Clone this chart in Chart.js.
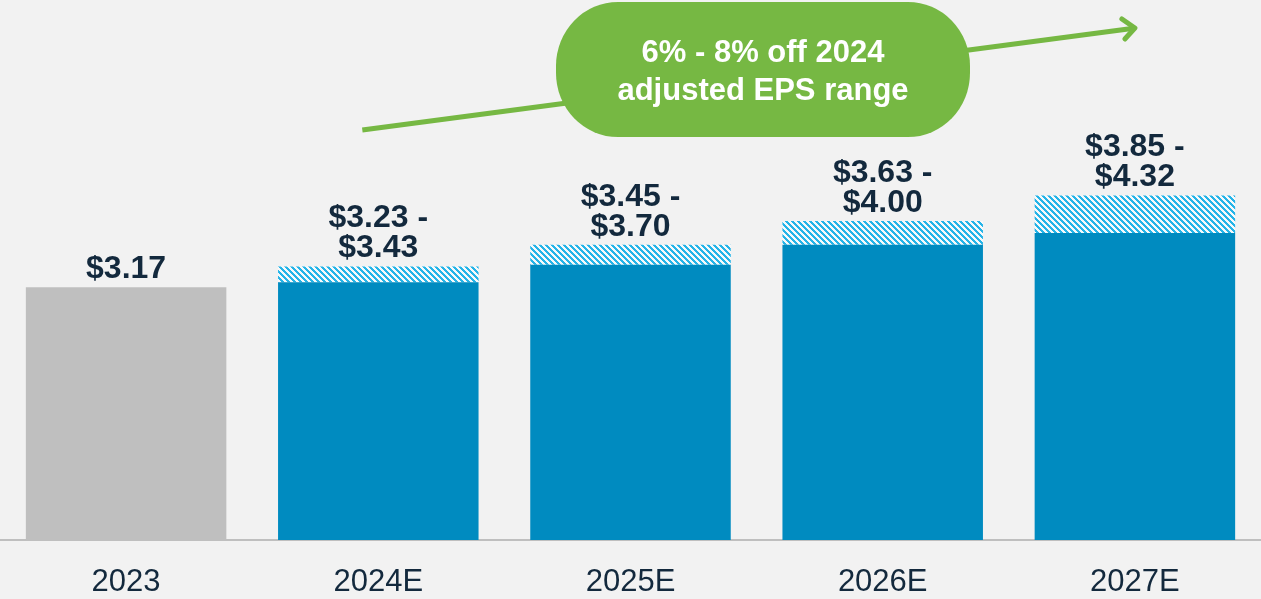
<!DOCTYPE html>
<html>
<head>
<meta charset="utf-8">
<script src="https://cdn.jsdelivr.net/npm/chart.js@4"></script>
<style>
    html, body { margin: 0; padding: 0; background: #f2f2f2; }
    #chart { display: block; }
</style>
</head>
<body>
<canvas id="chart" width="1261" height="599"></canvas>
<script>
// Adjusted EPS outlook
const years = ['2023', '2024E', '2025E', '2026E', '2027E'];
// bar heights as drawn in the source (2026E base sits a bit above its label)
const baseEps = [3.17, 3.23, 3.45, 3.70, 3.85];
const topEps = [null, 3.43, 3.70, 4.00, 4.32];
const valueText = [
    ['$3.17'],
    ['$3.23 -', '$3.43'],
    ['$3.45 -', '$3.70'],
    ['$3.63 -', '$4.00'],
    ['$3.85 -', '$4.32']
];
const calloutLines = ['6% - 8% off 2024', 'adjusted EPS range'];

const NAVY = '#13293d';
const BLUE = '#008bc0';
const GREY = '#bfbfbf';
const GREEN = '#76b843';

// range part stacked on top of the base
const rangeEps = topEps.map((h, i) => h === null ? 0 : +(h - baseEps[i]).toFixed(2));

// Diagonal hatch used for the range part of the bars
function makeHatch() {
    const p = 6;
    const c = document.createElement('canvas');
    c.width = p;
    c.height = p;
    const ctx = c.getContext('2d');
    ctx.fillStyle = '#f7f9fa';
    ctx.fillRect(0, 0, p, p);
    ctx.fillStyle = '#25b4e8';
    for (let x = 0; x < p; x++) {
        for (let y = 0; y < p; y++) {
            if (((x - y) % p + p) % p < 3) ctx.fillRect(x, y, 1, 1);
        }
    }
    return document.getElementById('chart').getContext('2d').createPattern(c, 'repeat');
}

// Value labels above each stack
const valueLabels = {
    id: 'valueLabels',
    afterDatasetsDraw(chart) {
        const ctx = chart.ctx;
        const y = chart.scales.y;
        const x = chart.scales.x;
        ctx.save();
        ctx.fillStyle = NAVY;
        ctx.font = 'bold 32px "Liberation Sans", Arial, sans-serif';
        ctx.textAlign = 'center';
        ctx.textBaseline = 'alphabetic';
        years.forEach((yr, i) => {
            const top = topEps[i] === null ? baseEps[i] : topEps[i];
            const lines = valueText[i];
            const cx = x.getPixelForValue(i);
            let base = y.getPixelForValue(top) - 9;
            for (let k = lines.length - 1; k >= 0; k--) {
                ctx.fillText(lines[k], cx, base);
                base -= 30;
            }
        });
        ctx.restore();
    }
};

// Growth arrow and green callout
const growthCallout = {
    id: 'growthCallout',
    afterDraw(chart) {
        const ctx = chart.ctx;
        const x = chart.scales.x;
        const x0 = x.getPixelForValue(1) - 16, y0 = 130;
        const x1 = x.getPixelForValue(4), y1 = 28;
        ctx.save();
        ctx.strokeStyle = GREEN;
        ctx.lineWidth = 5;
        ctx.lineCap = 'butt';
        ctx.beginPath();
        ctx.moveTo(x0, y0);
        ctx.lineTo(x1 - 3, y1 + 0.4);
        ctx.stroke();
        // open arrow head
        ctx.lineCap = 'round';
        ctx.lineJoin = 'round';
        ctx.beginPath();
        ctx.moveTo(x1 - 13, y1 - 9);
        ctx.lineTo(x1, y1);
        ctx.lineTo(x1 - 10, y1 + 11);
        ctx.stroke();

        // rounded callout
        const l = 556, r = 970, t = 2, b = 137;
        const rx = 62, ry = 64;
        ctx.fillStyle = GREEN;
        ctx.beginPath();
        ctx.moveTo(l + rx, t);
        ctx.lineTo(r - rx, t);
        ctx.ellipse(r - rx, t + ry, rx, ry, 0, -Math.PI / 2, 0);
        ctx.lineTo(r, b - ry);
        ctx.ellipse(r - rx, b - ry, rx, ry, 0, 0, Math.PI / 2);
        ctx.lineTo(l + rx, b);
        ctx.ellipse(l + rx, b - ry, rx, ry, 0, Math.PI / 2, Math.PI);
        ctx.lineTo(l, t + ry);
        ctx.ellipse(l + rx, t + ry, rx, ry, 0, Math.PI, Math.PI * 1.5);
        ctx.closePath();
        ctx.fill();

        ctx.fillStyle = '#ffffff';
        ctx.font = 'bold 31px "Liberation Sans", Arial, sans-serif';
        ctx.textAlign = 'center';
        ctx.textBaseline = 'middle';
        ctx.fillText(calloutLines[0], (l + r) / 2, 53);
        ctx.fillText(calloutLines[1], (l + r) / 2, 91);
        ctx.restore();
    }
};

const chart = new Chart(document.getElementById('chart'), {
    type: 'bar',
    data: {
        labels: years,
        datasets: [
            {
                label: 'Base',
                data: baseEps,
                backgroundColor: baseEps.map((v, i) => i === 0 ? GREY : BLUE),
                borderWidth: 0
            },
            {
                label: 'Range',
                data: rangeEps,
                backgroundColor: makeHatch(),
                borderWidth: 0
            }
        ]
    },
    options: {
        responsive: false,
        animation: false,
        barPercentage: 0.795,
        categoryPercentage: 1,
        layout: { padding: 0 },
        plugins: {
            legend: { display: false },
            tooltip: { enabled: false }
        },
        scales: {
            x: {
                stacked: true,
                grid: { display: false, drawTicks: false },
                border: { color: GREY, width: 2 },
                ticks: {
                    color: NAVY,
                    padding: 24,
                    font: { family: '"Liberation Sans", Arial, sans-serif', size: 31 }
                },
                afterFit(scale) { scale.height = 59; }
            },
            y: {
                stacked: true,
                display: false,
                min: 0,
                max: 6.77
            }
        }
    },
    plugins: [valueLabels, growthCallout]
});
</script>
</body>
</html>
